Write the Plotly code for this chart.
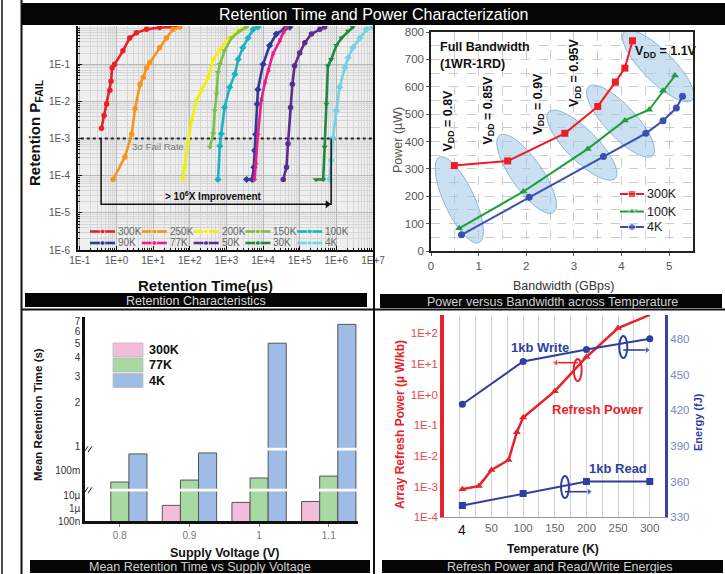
import math
import plotly.graph_objects as go

W, H = 725, 574
FONT = "Liberation Sans, Arial, Helvetica, sans-serif"


def px(x):
    return x / W


def py(y):
    return 1 - y / H


# ================= Panel 1 : Retention characteristics =================
RET_LABELS = ["300K", "250K", "200K", "150K", "100K", "90K", "77K", "50K", "30K", "4K"]
RET_COLORS = ["#e8202a", "#f7941d", "#f2f200", "#7cc242", "#1bb3c1",
              "#2b3a9b", "#ec1c8c", "#5b2d90", "#1f8a3e", "#72d3e3"]
RET_SYMBOLS = ["circle", "circle", "triangle-down", "triangle-down", "diamond",
               "diamond", "triangle-right", "circle", "triangle-down", "diamond"]

T_300K = [0.39, 0.46, 0.54, 0.66, 0.71, 0.76, 0.89, 1.5, 2.3, 3.5, 6.6, 15, 40]
P_300K = [1.9e-3, 4.2e-3, 8.5e-3, 2e-2, 3.5e-2, 8e-2, 1e-1, 2.3e-1, 5.1e-1, 7e-1, 8.7e-1, 0.98, 1.0]
T_250K = [0.81, 1.7, 2.6, 3.2, 4.4, 5.4, 6.6, 8.1, 15, 23, 35, 54]
P_250K = [7.9e-5, 3.2e-4, 1.3e-3, 6.3e-3, 2.9e-2, 4.4e-2, 8.1e-2, 1.1e-1, 2.8e-1, 5.1e-1, 8.7e-1, 1.0]
T_200K = [63, 72, 89, 112, 151, 209, 316, 437, 661, 1230, 2290, 3550]
P_200K = [7.9e-5, 1.7e-4, 7.2e-4, 3e-3, 1.05e-2, 1.95e-2, 4.4e-2, 1.35e-1, 2.5e-1, 5.1e-1, 8.7e-1, 1.0]
T_150K = [355, 437, 479, 537, 589, 661, 891, 1380, 2290, 3550]
P_150K = [5.9e-4, 1.35e-3, 5.6e-3, 1.6e-2, 6e-2, 1e-1, 2.3e-1, 5.1e-1, 7.8e-1, 1.0]
T_100K = [589, 661, 724, 891, 1230, 1700, 2090, 2820, 3890, 5370, 7240]
P_100K = [7.9e-5, 6.3e-4, 1.35e-3, 6.9e-3, 2.4e-2, 5.4e-2, 1.35e-1, 2.8e-1, 5.1e-1, 8.7e-1, 1.0]
T_90K = [3550, 5010, 5620, 5890, 6310, 6920, 7240, 1e4, 1.51e4, 2.29e4, 3.89e4, 5.37e4]
P_90K = [7.9e-5, 7.9e-5, 1.7e-4, 4.8e-4, 1.3e-3, 8.5e-3, 2.1e-2, 1e-1, 3.2e-1, 6.5e-1, 8.9e-1, 1.0]
T_77K = [5890, 6310, 7240, 8910, 1.12e4, 1.38e4, 1.86e4, 2.82e4, 3.55e4, 4.37e4]
P_77K = [7.9e-5, 2.1e-4, 1.3e-3, 1.05e-2, 3.2e-2, 6.6e-2, 1.9e-1, 4.2e-1, 7.1e-1, 1.0]
T_50K = [3.55e4, 4.37e4, 4.79e4, 5.62e4, 6.31e4, 7.24e4, 1e5, 1.38e5, 2.09e5, 3.55e5, 4.79e5]
P_50K = [7.9e-5, 1.7e-4, 7.2e-4, 6.9e-3, 2.9e-2, 9.1e-2, 2e-1, 3.8e-1, 6.5e-1, 8.7e-1, 1.0]
T_30K = [2.75e5, 4.37e5, 4.79e5, 5.37e5, 5.89e5, 7.24e5, 1e6, 1.38e6, 2.09e6, 2.82e6]
P_30K = [7.9e-5, 7.9e-5, 5.9e-4, 8.5e-3, 9.1e-2, 1.35e-1, 3.2e-1, 5.1e-1, 7.8e-1, 1.0]
T_4K = [6.61e5, 7.24e5, 8.13e5, 1e6, 1.23e6, 1.7e6, 2.09e6, 2.82e6, 4.37e6, 6.61e6, 1e7]
P_4K = [7.9e-5, 2.6e-4, 1.05e-3, 5.6e-3, 2.4e-2, 8.1e-2, 1.5e-1, 2.8e-1, 5.1e-1, 8.7e-1, 1.0]

RET_T = [T_300K, T_250K, T_200K, T_150K, T_100K, T_90K, T_77K, T_50K, T_30K, T_4K]
RET_P = [P_300K, P_250K, P_200K, P_150K, P_100K, P_90K, P_77K, P_50K, P_30K, P_4K]

FAIL_RATE_3SIGMA = 1e-3
BRACKET_T = [0.38, 7.2e5]        # 300K start  ->  4K at 3-sigma
BRACKET_P_LOW = 1.7e-5

RET_XTICKS = [0.1, 1, 10, 100, 1e3, 1e4, 1e5, 1e6, 1e7]
RET_XTEXT = ["1E-1", "1E+0", "1E+1", "1E+2", "1E+3", "1E+4", "1E+5", "1E+6", "1E+7"]
RET_YTICKS = [1e-6, 1e-5, 1e-4, 1e-3, 1e-2, 1e-1]
RET_YTEXT = ["1E-6", "1E-5", "1E-4", "1E-3", "1E-2", "1E-1"]

# ================= Panel 2 : power vs bandwidth =================
BW_LABELS = ["300K", "100K", "4K"]
BW_COLORS = ["#ee1c25", "#1f9e3c", "#3a4fb0"]
BW_SYMBOLS = ["square", "triangle-up", "circle"]
BW_300K = [0.49, 1.61, 2.81, 3.50, 3.87, 4.07, 4.23]
PW_300K = [312, 329, 430, 528, 617, 668, 768]
BW_100K = [0.59, 1.94, 3.29, 4.07, 4.58, 4.87, 5.12]
PW_100K = [83, 217, 373, 477, 516, 585, 641]
BW_4K = [0.64, 2.06, 3.62, 4.51, 4.87, 5.15, 5.28]
PW_4K = [59, 196, 345, 430, 476, 522, 565]
BW_X = [BW_300K, BW_100K, BW_4K]
BW_Y = [PW_300K, PW_100K, PW_4K]
VDD_LABELS = ["0.8V", "0.85V", "0.9V", "0.95V", "1.1V"]

# ================= Panel 3 : mean retention vs supply voltage =================
VOLTAGES = ["0.8", "0.9", "1", "1.1"]
RT_300K = [None, 1.7e-6, 2.9e-6, 3.4e-6]
RT_77K = [0.034, 0.041, 0.05, 0.06]
RT_4K = [0.5, 0.55, 5.0, 6.7]
RT_LABELS = ["300K", "77K", "4K"]
RT_COLORS = ["#f2bddc", "#a8d9a2", "#9fbce6"]
RT_SERIES = [RT_300K, RT_77K, RT_4K]

# ================= Panel 4 : refresh power & energies =================
TEMPS_REFRESH = [4, 30, 50, 77, 90, 100, 150, 200, 250, 300]
REFRESH_PWR = [8.3e-4, 1.05e-3, 3.5e-3, 7.4e-3, 0.06, 0.18, 1.3, 17, 150, 400]
TEMPS_ENERGY = [4, 100, 200, 300]
WRITE_E = [425, 461, 471, 480]
READ_E = [340, 350, 360, 360]

fig = go.Figure()

# ---------- panel 1 traces ----------
fig.add_trace(go.Scatter(x=[0.05, 2e7], y=[FAIL_RATE_3SIGMA, FAIL_RATE_3SIGMA], mode="lines",
                         line=dict(color="#222", width=2, dash="dot"), xaxis="x", yaxis="y",
                         hoverinfo="skip"))
for lab, col, sym, tx, pv in zip(RET_LABELS, RET_COLORS, RET_SYMBOLS, RET_T, RET_P):
    fig.add_trace(go.Scatter(x=tx, y=pv, mode="lines+markers", name=lab,
                             line=dict(color=col, width=2.6),
                             marker=dict(symbol=sym, size=5.5, color=col),
                             xaxis="x", yaxis="y"))
fig.add_trace(go.Scatter(x=[BRACKET_T[0], BRACKET_T[0], BRACKET_T[1], BRACKET_T[1]],
                         y=[FAIL_RATE_3SIGMA, BRACKET_P_LOW, BRACKET_P_LOW, FAIL_RATE_3SIGMA],
                         mode="lines", line=dict(color="#111", width=1.5),
                         xaxis="x", yaxis="y", hoverinfo="skip"))
fig.add_trace(go.Scatter(x=[BRACKET_T[1] * 0.8], y=[BRACKET_P_LOW], mode="markers",
                         marker=dict(symbol="triangle-right", size=7, color="#111"),
                         xaxis="x", yaxis="y", hoverinfo="skip"))

# ---------- panel 2 traces ----------
for lab, col, sym, bx, by in zip(BW_LABELS, BW_COLORS, BW_SYMBOLS, BW_X, BW_Y):
    fig.add_trace(go.Scatter(x=bx, y=by, mode="lines+markers", name=lab,
                             line=dict(color=col, width=2),
                             marker=dict(symbol=sym, size=7, color=col),
                             xaxis="x2", yaxis="y2"))

# ---------- panel 3 traces (three stacked log segments) ----------
for yax in ["y3", "y4", "y5"]:
    for lab, col, vals in zip(RT_LABELS, RT_COLORS, RT_SERIES):
        fig.add_trace(go.Bar(x=VOLTAGES, y=vals, name=lab,
                             marker=dict(color=col, line=dict(color="#555", width=1)),
                             xaxis="x3", yaxis=yax))

# ---------- panel 4 traces ----------
fig.add_trace(go.Scatter(x=TEMPS_REFRESH, y=REFRESH_PWR, mode="lines+markers",
                         line=dict(color="#e8222a", width=2.5),
                         marker=dict(symbol="triangle-up", size=7, color="#e8222a"),
                         xaxis="x4", yaxis="y6", cliponaxis=False))
fig.add_trace(go.Scatter(x=TEMPS_ENERGY, y=WRITE_E, mode="lines+markers",
                         line=dict(color="#2e3f9e", width=2),
                         marker=dict(symbol="circle", size=7, color="#2e3f9e"),
                         xaxis="x4", yaxis="y7"))
fig.add_trace(go.Scatter(x=TEMPS_ENERGY, y=READ_E, mode="lines+markers",
                         line=dict(color="#2e3f9e", width=2),
                         marker=dict(symbol="square", size=7, color="#2e3f9e"),
                         xaxis="x4", yaxis="y7"))

# ---------- legend glyphs & pointer arrows (overlay pixel axes) ----------
LEG1_X0, LEG1_DX, LEG1_Y0, LEG1_DY, LEG1_LEN = 90, 51.8, 231.5, 11.5, 25
annotations = []
for i, (lab, col) in enumerate(zip(RET_LABELS, RET_COLORS)):
    x0 = LEG1_X0 + (i % 5) * LEG1_DX
    yy = LEG1_Y0 + (i // 5) * LEG1_DY
    fig.add_trace(go.Scatter(x=[x0, x0 + LEG1_LEN / 2, x0 + LEG1_LEN], y=[yy, yy, yy],
                             mode="lines+markers", line=dict(color=col, width=2.6),
                             marker=dict(size=[0, 5, 0], color=col, symbol="circle"),
                             xaxis="x5", yaxis="y8", hoverinfo="skip"))
    annotations.append(dict(x=px(x0 + LEG1_LEN + 1), y=py(yy), xref="paper", yref="paper",
                            text=lab, showarrow=False, xanchor="left", yanchor="middle",
                            font=dict(size=10, color="#666")))

LEG2_X0, LEG2_Y = 620, [194, 211.5, 227]
for lab, col, sym, yy in zip(BW_LABELS, BW_COLORS, BW_SYMBOLS, LEG2_Y):
    fig.add_trace(go.Scatter(x=[LEG2_X0, LEG2_X0 + 12, LEG2_X0 + 24], y=[yy, yy, yy],
                             mode="lines+markers", line=dict(color=col, width=2),
                             marker=dict(size=[0, 7, 0], color=col, symbol=sym),
                             xaxis="x5", yaxis="y8", hoverinfo="skip"))
    annotations.append(dict(x=px(LEG2_X0 + 25), y=py(yy), xref="paper", yref="paper",
                            text=lab, showarrow=False, xanchor="left", yanchor="middle",
                            font=dict(size=12.5, color="#222")))

# axis-pointer arrows of panel 4 (tail x, head x, y, colour)
POINTERS = [(577.7, 556, 362.7, "#e8222a"), (623.3, 647, 350, "#2e3f9e"), (565, 589, 491.7, "#2e3f9e")]
for tx, hx, yy, col in POINTERS:
    sym = "triangle-left" if hx < tx else "triangle-right"
    fig.add_trace(go.Scatter(x=[tx, hx], y=[yy, yy], mode="lines+markers",
                             line=dict(color=col, width=1.6),
                             marker=dict(size=[0, 7], symbol=sym, color=col),
                             xaxis="x5", yaxis="y8", hoverinfo="skip"))

shapes = []

# panel 1 background
shapes.append(dict(type="rect", xref="paper", yref="paper", x0=px(78), x1=px(373),
                   y0=py(250), y1=py(26), fillcolor="#efefef", line=dict(width=0), layer="below"))

# panel 3 legend boxes
for lab, col, yy in zip(RT_LABELS, RT_COLORS, [350, 365, 380.5]):
    shapes.append(dict(type="rect", xref="paper", yref="paper", x0=px(113), x1=px(143),
                       y0=py(yy + 7), y1=py(yy - 7), fillcolor=col,
                       line=dict(color="#bbb", width=0.8), layer="above"))
    annotations.append(dict(x=px(147), y=py(yy), xref="paper", yref="paper", text="<b>%s</b>" % lab,
                            showarrow=False, xanchor="left", yanchor="middle",
                            font=dict(size=12.5, color="#111")))

# panel 2 ellipses (data coords of x2/y2)
SX2, SY2 = 47.66, 0.2734  # px per unit


def ellipse_path(cx, cy, a, b, ang, n=72):
    th = math.radians(ang)
    pts = []
    for k in range(n):
        t = 2 * math.pi * k / n
        ex, ey = a * math.cos(t), b * math.sin(t)
        dx = ex * math.cos(th) - ey * math.sin(th)
        dy = ex * math.sin(th) + ey * math.cos(th)
        pts.append((cx + dx / SX2, cy - dy / SY2))
    return "M " + " L ".join("%.4f,%.3f" % p for p in pts) + " Z"


ELLIPSES = [(0.594, 186.6, 47, 15, 65), (2.007, 281.7, 47, 15.5, 55), (3.168, 386.6, 47, 15.5, 45),
            (3.979, 474.4, 47, 15.5, 47), (4.769, 675.6, 48, 15.5, 45)]
for cx, cy, a, b, ang in ELLIPSES:
    shapes.append(dict(type="path", xref="x2", yref="y2", path=ellipse_path(cx, cy, a, b, ang),
                       fillcolor="rgba(160,200,230,0.55)", line=dict(color="#86b6dc", width=1),
                       layer="between"))

# panel 3 axis breaks
for yb in [449.2, 490.2]:
    shapes.append(dict(type="rect", xref="paper", yref="paper", x0=px(86.5), x1=px(358),
                       y0=py(yb + 1.4), y1=py(yb - 1.4), fillcolor="white", line=dict(width=0),
                       layer="above"))
    for dxo in [0, 4]:
        shapes.append(dict(type="line", xref="paper", yref="paper", x0=px(84 + dxo), x1=px(88 + dxo),
                           y0=py(yb + 3), y1=py(yb - 3), line=dict(color="#222", width=1),
                           layer="above"))

# panel 4 small ellipses
for cx, cy, col in [(577.7, 370, "#e8222a"), (623.3, 347, "#2e3f9e"), (565, 487, "#2e3f9e")]:
    shapes.append(dict(type="circle", xref="paper", yref="paper", x0=px(cx - 4), x1=px(cx + 4),
                       y0=py(cy + 11), y1=py(cy - 11), line=dict(color=col, width=2),
                       fillcolor="rgba(0,0,0,0)", layer="above"))

# frame lines
LINE = dict(color="#111", width=1.5)
shapes += [
    dict(type="line", xref="paper", yref="paper", x0=px(2), x1=px(2), y0=0, y1=1, line=LINE, layer="above"),
    dict(type="line", xref="paper", yref="paper", x0=px(21.5), x1=px(21.5), y0=0, y1=1,
         line=dict(color="#111", width=2), layer="above"),
    dict(type="line", xref="paper", yref="paper", x0=px(374), x1=px(374), y0=0, y1=py(25),
         line=dict(color="#111", width=2), layer="above"),
    dict(type="line", xref="paper", yref="paper", x0=px(21.5), x1=1, y0=py(309.5), y1=py(309.5),
         line=dict(color="#111", width=2), layer="above"),
]

# title & caption bars
BARS = [
    (22, 725, 3, 25, "Retention Time and Power Characterization", 374, 16, "#ffffff"),
    (25, 367, 293, 307, "Retention Characteristics", 196, 12.5, "#d8d8d8"),
    (380, 722, 294, 308, "Power versus Bandwidth across Temperature", 552, 12.5, "#d0d0d0"),
    (30, 370, 560, 573, "Mean Retention Time vs Supply Voltage", 200, 12.5, "#d0d0d0"),
    (382, 723, 560, 573, "Refresh Power and Read/Write Energies", 560, 12.5, "#d0d0d0"),
]
for x0, x1, y0, y1, txt, cx, fs, fc in BARS:
    shapes.append(dict(type="rect", xref="paper", yref="paper", x0=px(x0), x1=px(x1),
                       y0=py(y1), y1=py(y0), fillcolor="#050505", line=dict(width=0), layer="above"))
    annotations.append(dict(x=px(cx), y=py((y0 + y1) / 2 + 0.5), xref="paper", yref="paper", text=txt,
                            showarrow=False, xanchor="center", yanchor="middle",
                            font=dict(size=fs, color=fc)))


def ann(x, y, text, size, color="#111", angle=0, xanchor="center"):
    annotations.append(dict(x=px(x), y=py(y), xref="paper", yref="paper", text=text,
                            showarrow=False, textangle=angle, xanchor=xanchor, yanchor="middle",
                            font=dict(size=size, color=color)))


# panel 1 texts
ann(35, 133, "<b>Retention P<sub>FAIL</sub></b>", 15, angle=-90)
ann(205, 285, "<b>Retention Time(µs)</b>", 15)
ann(213, 196, "<b>> 10<sup>6</sup>X Improvement</b>", 10)
ann(158, 146, "3σ Fail Rate", 9.5, color="#777")

# panel 2 texts
ann(398, 140, "Power (µW)", 12.5, color="#555", angle=-90)
ann(563, 286, "Bandwidth (GBps)", 12.5, color="#333")
ann(438, 47, "<b>Full Bandwidth</b>", 12.5, xanchor="left")
ann(438, 64, "<b>(1WR-1RD)</b>", 12.5, xanchor="left")
for lab, (cx, cy) in zip(VDD_LABELS[:4], [(448.5, 120), (488.5, 110), (538.5, 104), (575, 73)]):
    ann(cx, cy, "<b>V<sub>DD</sub> = %s</b>" % lab, 12.5, angle=-90)
ann(633, 52, "<b>V<sub>DD</sub> = %s</b>" % VDD_LABELS[4], 12.5, xanchor="left")

# panel 3 texts
ann(38, 415, "<b>Mean Retention Time (s)</b>", 11.5, angle=-90)
ann(225, 553, "<b>Supply Voltage (V)</b>", 12.5)

# panel 4 texts
ann(400, 425, "<b>Array Refresh Power (µ W/kb)</b>", 12, color="#e8222a", angle=-90)
ann(698, 422, "<b>Energy (fJ)</b>", 11, color="#2e3f9e", angle=-90)
ann(553, 549, "<b>Temperature (K)</b>", 12)
ann(540, 347, "<b>1kb Write</b>", 13, color="#2e3f9e")
ann(597, 409, "<b>Refresh Power</b>", 13, color="#e8222a")
ann(618, 468, "<b>1kb Read</b>", 13, color="#2e3f9e")
annotations.append(dict(x=4, y=py(529.5), xref="x4", yref="paper", text="4", showarrow=False,
                        xanchor="center", yanchor="middle", font=dict(size=14, color="#111")))

# ---------- axes ----------
minor_dec = lambda lo, hi: [m * 10 ** k for k in range(lo, hi) for m in range(2, 10)]

layout = dict(
    width=W, height=H, autosize=False, margin=dict(l=0, r=0, t=0, b=0, pad=0, autoexpand=False),
    paper_bgcolor="white", plot_bgcolor="rgba(0,0,0,0)", showlegend=False,
    font=dict(family=FONT, size=11, color="#333"),
    bargap=0.22, bargroupgap=0, barmode="group",
    shapes=shapes, annotations=annotations,
    xaxis=dict(type="log", domain=[px(78), px(373)], range=[-1.05, 7.0], anchor="y",
               tickvals=RET_XTICKS, ticktext=RET_XTEXT, tickfont=dict(size=10, color="#555"),
               showline=True, linecolor="#111", linewidth=2, ticks="inside", ticklen=4,
               tickcolor="#111", showgrid=True, gridcolor="#b8b8b8", zeroline=False,
               minor=dict(tickvals=minor_dec(-1, 7), showgrid=True, gridcolor="#d6d6d6",
                          ticks="inside", ticklen=2, tickcolor="#111")),
    yaxis=dict(type="log", domain=[py(250), py(26)], range=[-6, 0.03], anchor="x",
               tickvals=RET_YTICKS, ticktext=RET_YTEXT, tickfont=dict(size=10, color="#555"),
               showline=True, linecolor="#111", linewidth=2, ticks="inside", ticklen=4,
               tickcolor="#111", showgrid=True, gridcolor="#b8b8b8", zeroline=False,
               ticklabelstandoff=4,
               minor=dict(tickvals=minor_dec(-6, 0), showgrid=True, gridcolor="#d6d6d6",
                          ticks="inside", ticklen=2, tickcolor="#111")),
    xaxis2=dict(domain=[px(431), px(693)], range=[0, 5.5], anchor="y2",
                tickvals=[0, 1, 2, 3, 4, 5], tickfont=dict(size=11.5, color="#555"),
                showline=True, mirror=True, linecolor="#222", linewidth=1.5,
                ticks="outside", ticklen=3, tickcolor="#555", zeroline=False,
                showgrid=True, gridcolor="#cccccc", griddash="dash",
                minor=dict(tickvals=[0.5, 1.5, 2.5, 3.5, 4.5], showgrid=True,
                           gridcolor="#cccccc", griddash="dash")),
    yaxis2=dict(domain=[py(251), py(32)], range=[0, 800], anchor="x2",
                tickvals=list(range(0, 801, 100)), tickfont=dict(size=11.5, color="#555"),
                showline=True, mirror=True, linecolor="#222", linewidth=1.5,
                ticks="outside", ticklen=3, tickcolor="#555", zeroline=False,
                showgrid=True, gridcolor="#cccccc", griddash="dash",
                minor=dict(tickvals=list(range(50, 800, 100)), showgrid=True,
                           gridcolor="#cccccc", griddash="dash")),
    xaxis3=dict(type="category", categoryorder="array", categoryarray=VOLTAGES,
                domain=[px(85), px(358)], range=[-0.5, 3.42], anchor="y3",
                tickfont=dict(size=10, color="#777"), showline=True, linecolor="#111",
                linewidth=2.5, ticks="outside", ticklen=3, tickcolor="#777", showgrid=False),
    yaxis3=dict(type="log", domain=[py(521), py(490)], range=[-7, -4.56], anchor="x3",
                tickvals=[1e-7, 1e-6, 1e-5], ticktext=["100n", "1µ", "10µ"],
                tickfont=dict(size=10, color="#333"), showline=True, linecolor="#111",
                linewidth=2.5, showgrid=False, zeroline=False, ticks=""),
    yaxis4=dict(type="log", domain=[py(490), py(449)], range=[-1.80, -0.096], anchor="x3",
                tickvals=[0.1], ticktext=["100m"], tickfont=dict(size=10, color="#333"),
                showline=True, linecolor="#111", linewidth=2.5, showgrid=False,
                zeroline=False, ticks=""),
    yaxis5=dict(type="log", domain=[py(449), py(317)], range=[-0.0155, 0.876], anchor="x3",
                tickvals=[1, 2, 3, 4, 5, 6, 7], ticktext=["1", "2", "3", "4", "5", "6", "7"],
                tickfont=dict(size=10, color="#333"), showline=True, linecolor="#111",
                linewidth=2.5, showgrid=False, zeroline=False, ticks=""),
    xaxis4=dict(domain=[px(444), px(665)], range=[-25, 324], anchor="y6",
                tickvals=[50, 100, 150, 200, 250, 300],
                tickfont=dict(size=11.5, color="#666"), showline=True, linecolor="#999",
                linewidth=1, showgrid=True, gridcolor="#d2d2d2", zeroline=False, ticks="",
                minor=dict(tickvals=[0, 25, 75, 125, 175, 225, 275], showgrid=True,
                           gridcolor="#d2d2d2", ticks="")),
    yaxis6=dict(type="log", domain=[py(517.3), py(315)], range=[-4, 2.6], anchor="x4",
                tickvals=[1e-4, 1e-3, 1e-2, 1e-1, 1, 10, 100],
                ticktext=["1E-4", "1E-3", "1E-2", "1E-1", "1E+0", "1E+1", "1E+2"],
                tickfont=dict(size=11.5, color="#e84850"), showline=True, linecolor="#e8222a",
                linewidth=3.5, showgrid=False, zeroline=False, ticks=""),
    yaxis7=dict(overlaying="y6", side="right", anchor="x4", range=[330, 500],
                tickvals=[330, 360, 390, 420, 450, 480], tickfont=dict(size=11.5, color="#7b86cf"),
                showline=True, linecolor="#3344aa", linewidth=3, showgrid=False,
                zeroline=False, ticks=""),
    xaxis5=dict(domain=[0, 1], range=[0, W], anchor="y8", visible=False, fixedrange=True),
    yaxis8=dict(domain=[0, 1], range=[H, 0], anchor="x5", visible=False, fixedrange=True),
)
fig.update_layout(**layout)
fig.write_html("out.html", config={"displayModeBar": False},
               post_script="document.body.style.margin='0';document.body.style.padding='0';")
